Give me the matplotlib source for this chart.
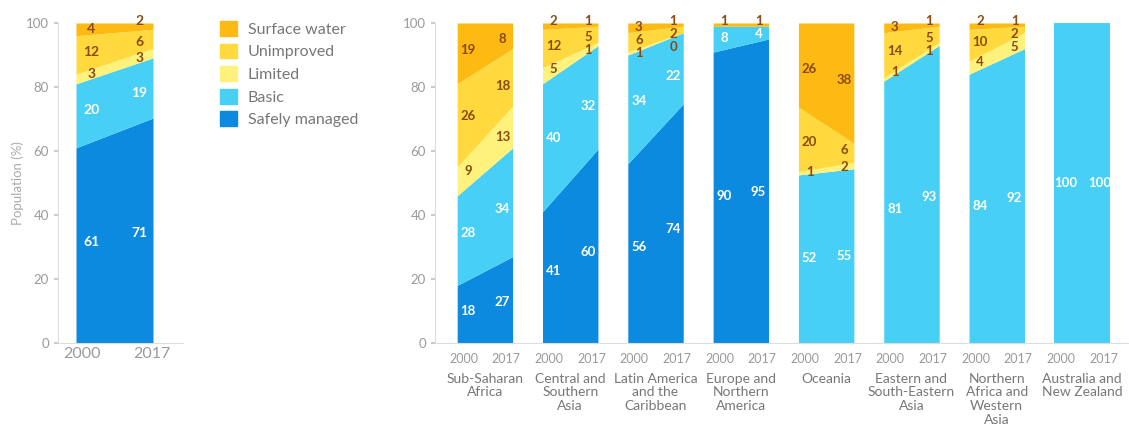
import matplotlib.pyplot as plt
from matplotlib.patches import Patch
import numpy as np

plt.rcParams['font.family'] = ['Lato', 'DejaVu Sans']

# 数据 (None = no value shown)
layers = ['Safely managed', 'Basic', 'Limited', 'Unimproved', 'Surface water']
colors = ['#0B8ADF', '#47CFF6', '#FFF27C', '#FFD93E', '#FDBA12']
text_colors = ['white', 'white', '#8A4A0E', '#8A4A0E', '#8A4A0E']

world_2000 = [61, 20, 3, 12, 4]
world_2017 = [71, 19, 3, 6, 2]

regions = ['Sub-Saharan\nAfrica', 'Central and\nSouthern\nAsia', 'Latin America\nand the\nCaribbean',
           'Europe and\nNorthern\nAmerica', 'Oceania', 'Eastern and\nSouth-Eastern\nAsia',
           'Northern\nAfrica and\nWestern\nAsia', 'Australia and\nNew Zealand']
region_2000 = [
    [18, 28, 9, 26, 19],
    [41, 40, 5, 12, 2],
    [56, 34, 1, 6, 3],
    [90, 8, None, None, 1],
    [None, 52, 1, 20, 26],
    [None, 81, 1, 14, 3],
    [None, 84, 4, 10, 2],
    [None, 100, None, None, None],
]
region_2017 = [
    [27, 34, 13, 18, 8],
    [60, 32, 1, 5, 1],
    [74, 22, 0, 2, 1],
    [95, 4, None, None, 1],
    [None, 55, 2, 6, 38],
    [None, 93, 1, 5, 1],
    [None, 92, 5, 2, 1],
    [None, 100, None, None, None],
]
years = ['2000', '2017']

grey = '#9a9a9a'


def stack(vals):
    v = np.array([0 if x is None else x for x in vals], dtype=float)
    v = v / v.sum() * 100
    top = np.cumsum(v)
    return top - v, top


def draw_group(ax, x0, x1, v0, v1, fs):
    lo0, hi0 = stack(v0)
    lo1, hi1 = stack(v1)
    for k in range(len(layers)):
        ax.fill_between([x0, x1], [lo0[k], lo1[k]], [hi0[k], hi1[k]],
                        color=colors[k], linewidth=0)
    # 标签 (small bands get pushed apart from the top down)
    for f, vals in ((0.2, v0), (0.82, v1)):
        ks = [k for k in range(len(layers)) if vals[k] is not None]
        ys = {}
        for k in ks:
            lo = lo0[k] + f * (lo1[k] - lo0[k])
            hi = hi0[k] + f * (hi1[k] - hi0[k])
            ys[k] = (lo + hi) / 2
        prev = None
        for k in reversed(ks):
            if prev is None and vals[k] <= 2 and ys[k] > 95:
                ys[k] = max(ys[k], 100.5)
            if prev is not None:
                ys[k] = min(ys[k], prev - 4)
            prev = ys[k]
        for k in ks:
            ax.text(x0 + f * (x1 - x0), ys[k], str(vals[k]), ha='center', va='center',
                    color=text_colors[k], fontsize=fs, fontweight='bold', clip_on=False)


def style(ax):
    for s in ['top', 'right']:
        ax.spines[s].set_visible(False)
    for s in ['left', 'bottom']:
        ax.spines[s].set_color('#dddddd')
    ax.set_ylim(0, 100)
    ax.set_yticks([0, 20, 40, 60, 80, 100])
    ax.tick_params(axis='y', colors='#cccccc', labelcolor=grey, labelsize=9.5, length=3, width=1.5)
    ax.tick_params(axis='x', length=0, labelcolor=grey)


fig = plt.figure(figsize=(11.29, 4.26), dpi=100)

# 左图 (world)
ax1 = fig.add_axes([58 / 1129, 83 / 426, 125 / 1129, 320 / 426])
draw_group(ax1, 0, 1, world_2000, world_2017, 10)
ax1.set_xlim(-18 / 77, 1 + 30 / 77)
style(ax1)
ax1.set_xticks([0.08, 0.98])
ax1.set_xticklabels(years, fontsize=11.5)
ax1.tick_params(axis='x', pad=3)
ax1.set_ylabel('Population (%)', color='#aaaaaa', fontsize=9.5)
ax1.yaxis.set_label_coords(-0.27, 0.5)

# 图例
handles = [Patch(color=colors[k], label=layers[k]) for k in range(len(layers) - 1, -1, -1)]
fig.legend(handles=handles, loc='upper left', bbox_to_anchor=(220 / 1129, 1 - 21 / 426),
           frameon=False, fontsize=11.5, labelcolor='#777777', handlelength=1.05, handleheight=1.05,
           labelspacing=0.42, handletextpad=0.7, borderpad=0, borderaxespad=0)

# 右图 (regions)
ax2 = fig.add_axes([435 / 1129, 83 / 426, 694 / 1129, 320 / 426])
w = 0.325
for i in range(len(regions)):
    draw_group(ax2, i - w, i + w, region_2000[i], region_2017[i], 9.5)
ax2.set_xlim(-0.585, 7.55)
style(ax2)
xt = []
xl = []
for i in range(len(regions)):
    xt += [i - 0.25, i + 0.25]
    xl += years
ax2.set_xticks(xt)
ax2.set_xticklabels(xl, fontsize=9)
ax2.tick_params(axis='x', pad=7)
for i, name in enumerate(regions):
    ax2.text(i, -9.3, name, ha='center', va='top', fontsize=10, color='#777777',
             linespacing=1.17, transform=ax2.transData)

plt.savefig('out.png', dpi=100)
